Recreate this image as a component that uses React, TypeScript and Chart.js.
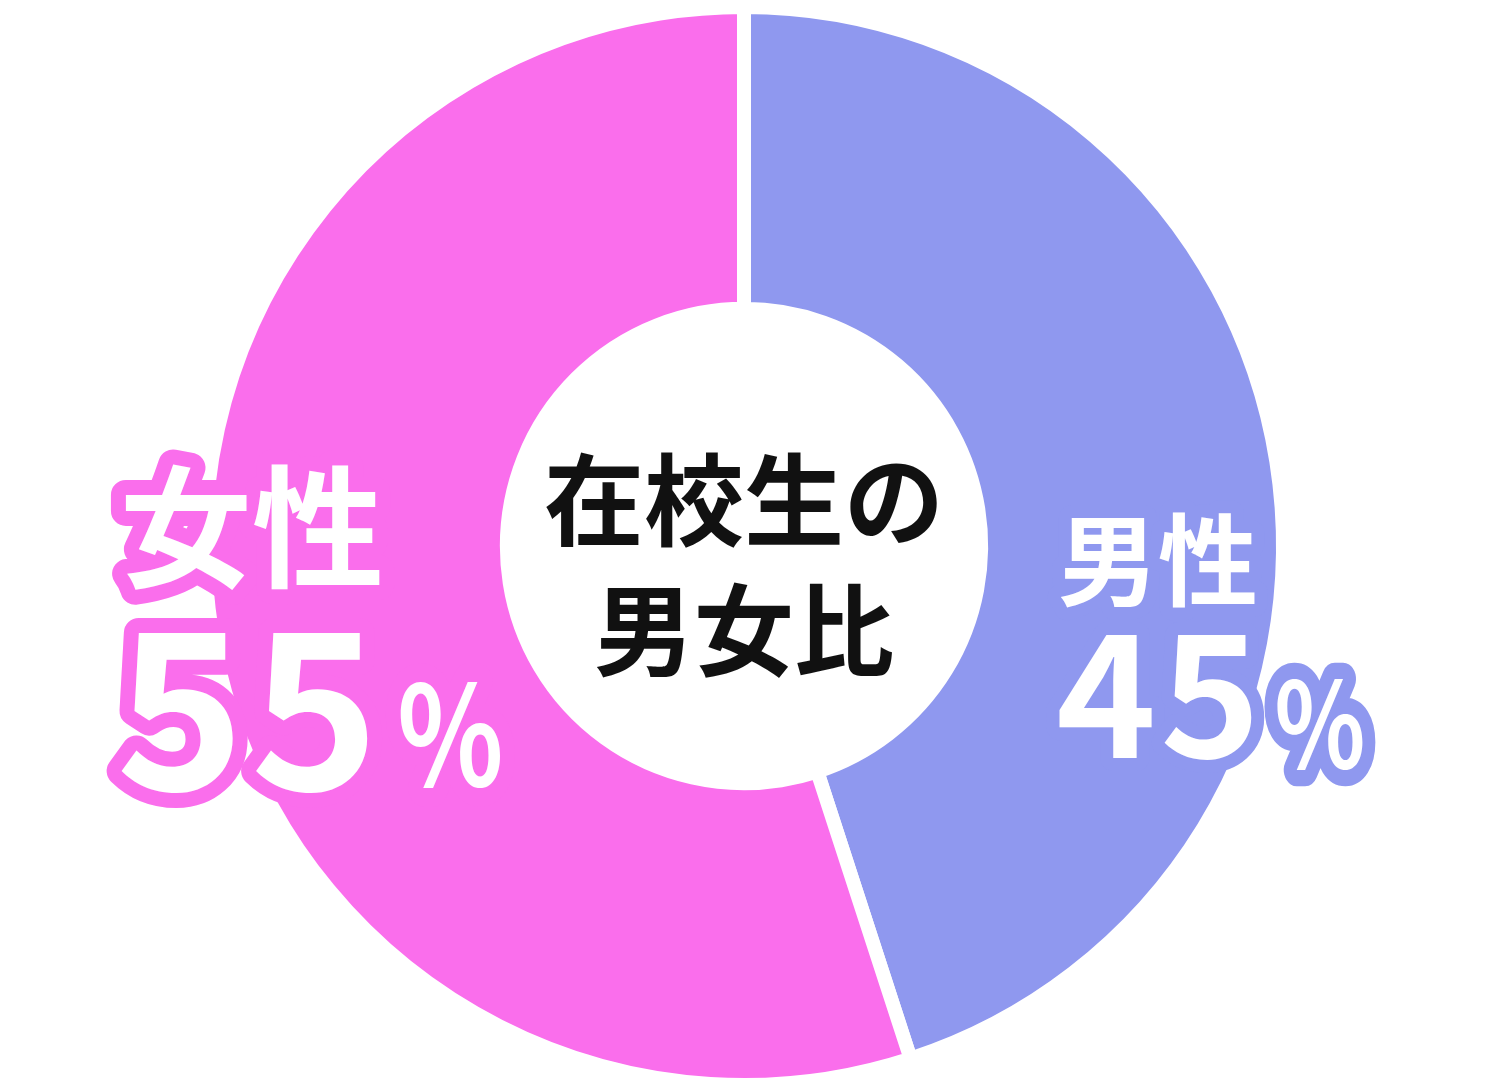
import React, { useEffect, useRef } from "react";
import { Chart, registerables } from "chart.js";

Chart.register(...registerables);

const categories = ["男性", "女性"];
const values = [45, 55];
const percentLabels = ["45", "55"];
const colors = ["#8F98EF", "#FA6EEC"];
const centerLines = ["在校生の", "男女比"];

const FONT = '"Noto Sans CJK JP", "Noto Sans", sans-serif';

function drawOutlined(
  ctx: CanvasRenderingContext2D,
  text: string,
  x: number,
  y: number,
  size: number,
  stroke: string,
  lw: number,
  baseline: CanvasTextBaseline,
  scaleX = 1,
  spacing = 0
) {
  ctx.save();
  (ctx as any).letterSpacing = `${spacing}px`;
  ctx.font = `700 ${size}px ${FONT}`;
  ctx.textAlign = "left";
  ctx.textBaseline = baseline;
  ctx.lineJoin = "round";
  ctx.translate(x, y);
  ctx.scale(scaleX, 1);
  ctx.lineWidth = lw / scaleX;
  ctx.strokeStyle = stroke;
  ctx.strokeText(text, 0, 0);
  ctx.fillStyle = "#ffffff";
  ctx.fillText(text, 0, 0);
  const w = (ctx.measureText(text).width - spacing) * scaleX;
  ctx.restore();
  return w;
}

const labelPlugin = {
  id: "labelPlugin",
  afterDraw(chart: any) {
    const ctx: CanvasRenderingContext2D = chart.ctx;
    const arc = chart.getDatasetMeta(0).data[0];
    if (!arc) return;
    const cx = arc.x;
    const cy = arc.y;
    ctx.save();
    // center title
    ctx.fillStyle = "#111111";
    ctx.font = `700 100px ${FONT}`;
    ctx.textAlign = "center";
    ctx.textBaseline = "middle";
    ctx.fillText(centerLines[0], cx, cy - 46);
    ctx.fillText(centerLines[1], cx, cy + 84);

    // female (index 1)
    const fx = cx - 624;
    drawOutlined(ctx, categories[1], fx, cy - 19, 132, colors[1], 30, "middle");
    const w55 = drawOutlined(ctx, percentLabels[1], fx - 4, cy + 244, 218, colors[1], 30, "alphabetic", 1, 6);
    drawOutlined(ctx, "%", fx - 4 + w55 + 18, cy + 240, 138, colors[1], 30, "alphabetic", 0.8);

    // male (index 0)
    const mx = cx + 314;
    drawOutlined(ctx, categories[0], mx, cy + 14, 100, colors[0], 26, "middle");
    const w45 = drawOutlined(ctx, percentLabels[0], mx - 2, cy + 212, 170, colors[0], 26, "alphabetic", 1, 4);
    drawOutlined(ctx, "%", mx - 2 + w45 + 14, cy + 222, 118, colors[0], 26, "alphabetic", 0.8);
    ctx.restore();
  },
};

export default function App() {
  const ref = useRef<HTMLCanvasElement | null>(null);
  useEffect(() => {
    if (!ref.current) return;
    const chart = new Chart(ref.current, {
      type: "doughnut",
      data: {
        labels: categories,
        datasets: [
          {
            data: values,
            backgroundColor: colors,
            borderColor: "#ffffff",
            borderWidth: 14,
            hoverOffset: 0,
          },
        ],
      },
      options: {
        animation: false,
        responsive: true,
        maintainAspectRatio: false,
        cutout: "44%",
        layout: { padding: { left: 3 } },
        plugins: { legend: { display: false }, tooltip: { enabled: false } },
        events: [],
      },
      plugins: [labelPlugin],
    });
    return () => chart.destroy();
  }, []);
  return (
    <div style={{ position: "absolute", left: 0, top: 0, width: 1485, height: 1092, background: "#ffffff" }}>
      <canvas ref={ref} />
    </div>
  );
}
